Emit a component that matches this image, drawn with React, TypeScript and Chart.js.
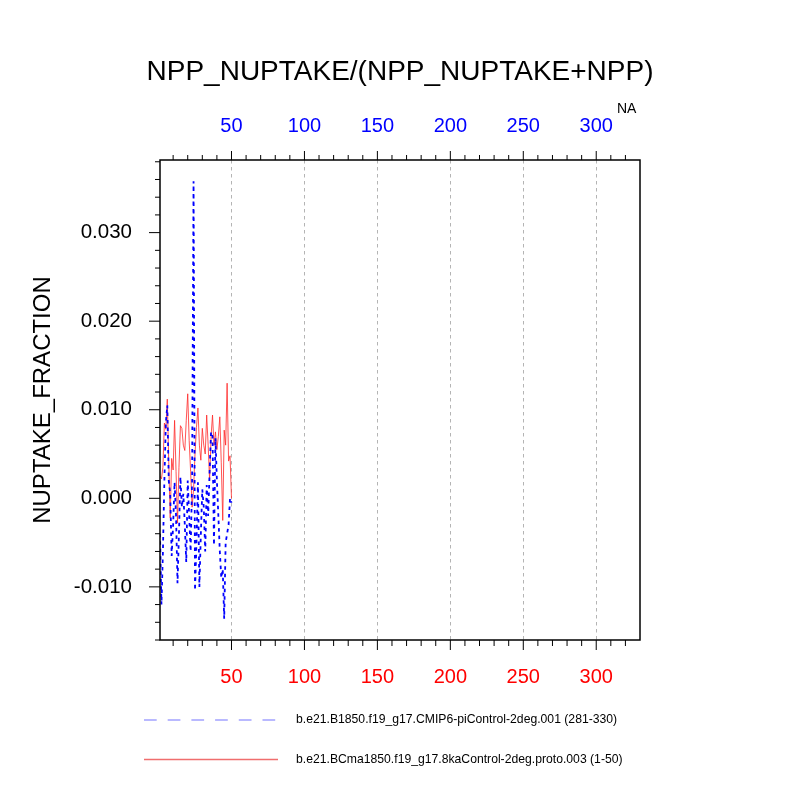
import React, { useEffect, useRef } from 'react';
import { Chart, registerables } from 'chart.js';

Chart.register(...registerables);

const FONT = "'Liberation Sans', Arial, Helvetica, sans-serif";

// model years plotted on the x axis
const years = Array.from({ length: 50 }, (_, i) => i + 1);

// b.e21.B1850.f19_g17.CMIP6-piControl-2deg.001 (281-330)
const piControl = [
  -0.004, -0.012, -0.006, 0.002, 0.0085, 0.0105, 0.002, 0.0005, -0.0065, -0.003,
  0.0018, -0.002, -0.0096, -0.004, 0.0024, -0.001, 0.0005, -0.003, -0.0072, 0.002,
  -0.002, -0.006, 0.002, 0.0358, -0.0104, -0.005, 0.0018, -0.01, -0.004, 0.001,
  -0.001, -0.006, 0.0015, -0.002, 0.003, 0.0075, 0.007, -0.0053, 0.0068, 0.002,
  -0.002, -0.006, -0.009, -0.008, -0.0136, -0.005, -0.004, -0.003, 0.0, -0.0005,
];

// b.e21.BCma1850.f19_g17.8kaControl-2deg.proto.003 (1-50)
const kaControl = [
  0.0025, 0.0022, 0.0035, 0.0085, 0.0078, 0.0112, 0.004, -0.0022, 0.0045, 0.0032,
  0.0088, 0.003, -0.0028, 0.0035, 0.0082, 0.0079, 0.006, 0.0054, 0.0088, 0.0118,
  0.0065, 0.003, -0.001, 0.001, 0.005, 0.008, 0.0102, 0.006, 0.0043, 0.0079,
  0.006, 0.005, 0.0094, 0.006, 0.002, 0.007, 0.0094, 0.006, 0.0075, 0.0055,
  0.007, 0.0092, 0.004, -0.0025, 0.0077, 0.006, 0.013, 0.0042, 0.0048, 0.0,
];

const xMajor = [50, 100, 150, 200, 250, 300];
const xMinor = [10, 20, 30, 40, 60, 70, 80, 90, 110, 120, 130, 140, 160, 170, 180, 190,
  210, 220, 230, 240, 260, 270, 280, 290, 310, 320];
const yMajor = [-0.01, 0.0, 0.01, 0.02, 0.03];
const yMinor = [-0.016, -0.014, -0.012, -0.008, -0.006, -0.004, -0.002, 0.002, 0.004, 0.006,
  0.008, 0.012, 0.014, 0.016, 0.018, 0.022, 0.024, 0.026, 0.028, 0.032, 0.034, 0.036, 0.038];

const seriesNames = [
  'b.e21.B1850.f19_g17.CMIP6-piControl-2deg.001 (281-330)',
  'b.e21.BCma1850.f19_g17.8kaControl-2deg.proto.003 (1-50)',
];

const nclDecor = {
  id: 'nclDecor',
  beforeDatasetsDraw(chart: any) {
    const { ctx, chartArea } = chart;
    const x = chart.scales.x;
    ctx.save();
    ctx.strokeStyle = '#b4b4b4';
    ctx.lineWidth = 1;
    ctx.setLineDash([3.5, 3.5]);
    xMajor.forEach((v) => {
      const px = Math.round(x.getPixelForValue(v)) + 0.5;
      ctx.beginPath();
      ctx.moveTo(px, chartArea.top);
      ctx.lineTo(px, chartArea.bottom);
      ctx.stroke();
    });
    ctx.restore();
  },
  afterDraw(chart: any) {
    const { ctx, chartArea } = chart;
    const x = chart.scales.x;
    const y = chart.scales.y;
    const { left, right, top, bottom } = chartArea;
    ctx.save();
    ctx.strokeStyle = '#000';
    ctx.lineWidth = 1.5;
    ctx.setLineDash([]);
    ctx.strokeRect(left, top, right - left, bottom - top);

    ctx.lineWidth = 1;
    const seg = (x1: number, y1: number, x2: number, y2: number) => {
      ctx.beginPath();
      ctx.moveTo(x1, y1);
      ctx.lineTo(x2, y2);
      ctx.stroke();
    };
    xMajor.forEach((v) => {
      const px = x.getPixelForValue(v);
      seg(px, bottom, px, bottom + 10);
      seg(px, top, px, top - 9);
    });
    xMinor.forEach((v) => {
      const px = x.getPixelForValue(v);
      seg(px, bottom, px, bottom + 6);
      seg(px, top, px, top - 5);
    });
    yMajor.forEach((v) => {
      const py = y.getPixelForValue(v);
      seg(left, py, left - 11, py);
    });
    yMinor.forEach((v) => {
      const py = y.getPixelForValue(v);
      seg(left, py, left - 5, py);
    });

    // title and corner label
    ctx.fillStyle = '#000';
    ctx.textBaseline = 'alphabetic';
    ctx.textAlign = 'center';
    ctx.font = `28px ${FONT}`;
    ctx.fillText('NPP_NUPTAKE/(NPP_NUPTAKE+NPP)', 400, 80);
    ctx.textAlign = 'left';
    ctx.font = `14px ${FONT}`;
    ctx.fillText('NA', 617, 113);

    // legend
    ctx.lineWidth = 1.2;
    ctx.strokeStyle = 'rgba(40,40,255,0.65)';
    ctx.setLineDash([12.7, 11]);
    seg(144, 720, 276, 720);
    ctx.setLineDash([]);
    ctx.lineWidth = 1.4;
    ctx.strokeStyle = 'rgba(240,110,110,1)';
    seg(144, 759.5, 278, 759.5);
    ctx.font = `12.2px ${FONT}`;
    ctx.textBaseline = 'middle';
    ctx.fillText(seriesNames[0], 296, 720);
    ctx.fillText(seriesNames[1], 296, 760);
    ctx.restore();
  },
};

export default function App() {
  const canvasRef = useRef<HTMLCanvasElement | null>(null);

  useEffect(() => {
    const canvas = canvasRef.current;
    if (!canvas) return;
    const chart = new Chart(canvas, {
      type: 'line',
      data: {
        datasets: [
          {
            label: seriesNames[0],
            data: years.map((yr, i) => ({ x: yr, y: piControl[i] })),
            borderColor: '#0000ff',
            borderWidth: 1.8,
            borderDash: [3.5, 4],
            pointRadius: 0,
            tension: 0,
          },
          {
            label: seriesNames[1],
            data: years.map((yr, i) => ({ x: yr, y: kaControl[i] })),
            borderColor: 'rgba(255,40,40,0.8)',
            borderWidth: 1,
            pointRadius: 0,
            tension: 0,
          },
        ],
      },
      options: {
        animation: false,
        responsive: false,
        layout: { padding: { left: 0, right: 160, top: 0, bottom: 0 } },
        plugins: { legend: { display: false }, tooltip: { enabled: false } },
        scales: {
          x: {
            type: 'linear',
            position: 'bottom',
            min: 1,
            max: 330,
            grid: { display: false },
            border: { display: false },
            afterBuildTicks: (s: any) => { s.ticks = xMajor.map((v) => ({ value: v })); },
            afterFit: (s: any) => { s.height = 160; },
            ticks: { color: '#ff0000', padding: 17, maxRotation: 0, font: { size: 20, family: FONT } },
          },
          x2: {
            type: 'linear',
            position: 'top',
            min: 1,
            max: 330,
            grid: { display: false },
            border: { display: false },
            afterBuildTicks: (s: any) => { s.ticks = xMajor.map((v) => ({ value: v })); },
            afterFit: (s: any) => { s.height = 160; },
            ticks: { color: '#0000ff', padding: 14, maxRotation: 0, font: { size: 20, family: FONT } },
          },
          y: {
            type: 'linear',
            min: -0.016,
            max: 0.0382,
            grid: { display: false },
            border: { display: false },
            afterBuildTicks: (s: any) => { s.ticks = yMajor.map((v) => ({ value: v })); },
            afterFit: (s: any) => { s.width = 160; },
            ticks: {
              color: '#000',
              padding: 20,
              font: { size: 20.5, family: FONT },
              callback: (v: any) => Number(v).toFixed(3),
            },
            title: {
              display: true,
              text: 'NUPTAKE_FRACTION',
              color: '#000',
              font: { size: 24, family: FONT },
              padding: { top: 29, bottom: 0 },
            },
          },
        },
      },
      plugins: [nclDecor],
    } as any);
    return () => chart.destroy();
  }, []);

  return (
    <div style={{ position: 'absolute', left: 0, top: 0, width: 800, height: 800, background: '#fff' }}>
      <canvas ref={canvasRef} width={800} height={800} style={{ width: 800, height: 800 }} />
    </div>
  );
}
